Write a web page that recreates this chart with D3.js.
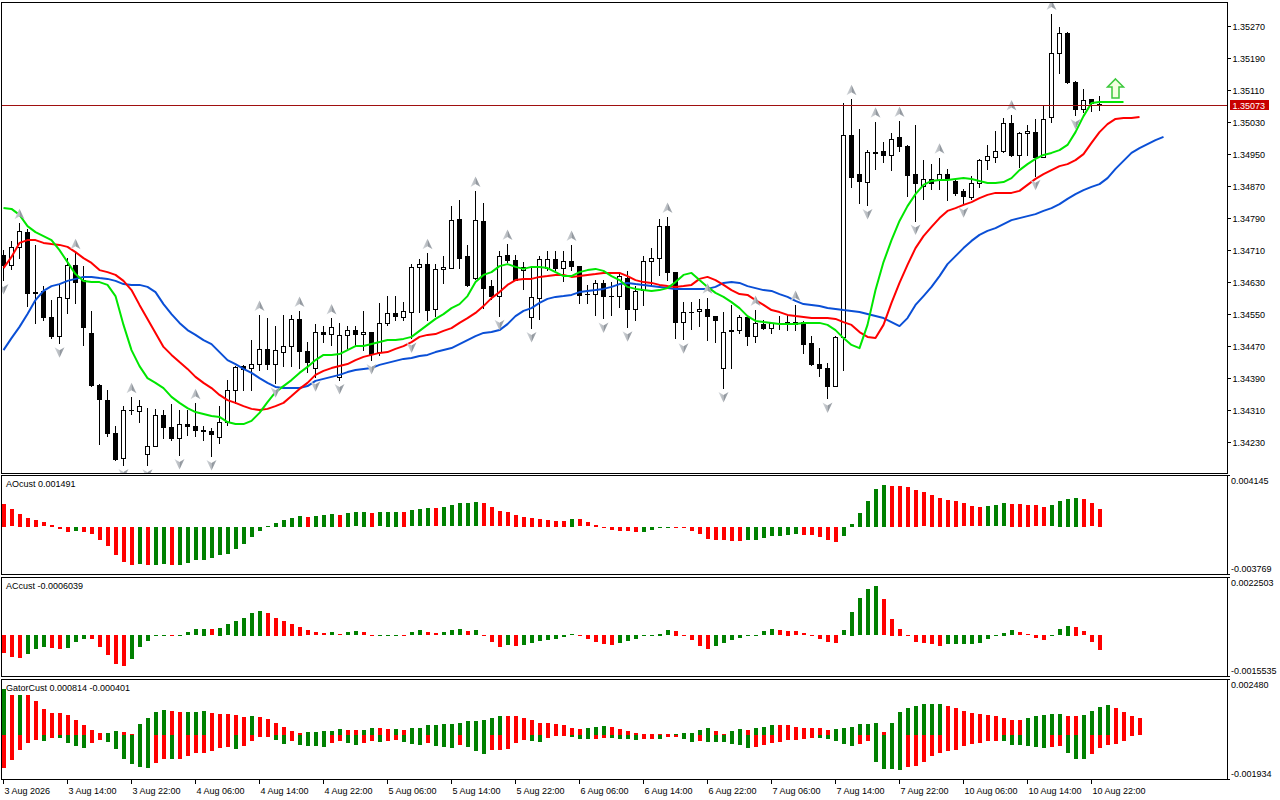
<!DOCTYPE html>
<html>
<head>
<meta charset="utf-8">
<script src="https://cdnjs.cloudflare.com/ajax/libs/d3/7.8.5/d3.min.js"></script>
<style>
  body { margin: 0; background: #fff; }
  svg { display: block; font-family: "Liberation Sans", Arial, sans-serif; font-size: 9px; }
</style>
</head>
<body>
<svg id="chart"></svg>
<script>
// ---- data (EURUSD-like H1, 3 Aug 06:00 .. 10 Aug 23:00) ----
// candles: [open, high, low, close]
const candles = [
  [1.34697,1.34709,1.34634,1.34672],[1.34672,1.34732,1.34661,1.34716],[1.34716,1.34776,1.34690,1.34757],[1.34754,1.34763,1.34570,1.34601],
  [1.34603,1.34722,1.34526,1.34601],[1.34607,1.34619,1.34533,1.34541],[1.34542,1.34584,1.34488,1.34493],[1.34494,1.34622,1.34476,1.34591],
  [1.34588,1.34688,1.34551,1.34672],[1.34672,1.34701,1.34576,1.34630],[1.34634,1.34668,1.34472,1.34516],[1.34501,1.34557,1.34368,1.34372],
  [1.34372,1.34373,1.34223,1.34336],[1.34334,1.34359,1.34244,1.34251],[1.34251,1.34269,1.34184,1.34186],[1.34188,1.34319,1.34172,1.34309],
  [1.34309,1.34341,1.34299,1.34310],[1.34306,1.34333,1.34280,1.34319],[1.34198,1.34313,1.34171,1.34219],[1.34219,1.34311,1.34218,1.34297],
  [1.34297,1.34309,1.34238,1.34266],[1.34266,1.34323,1.34234,1.34238],[1.34238,1.34309,1.34197,1.34273],[1.34274,1.34309,1.34247,1.34268],
  [1.34269,1.34326,1.34245,1.34258],[1.34258,1.34268,1.34233,1.34257],[1.34257,1.34265,1.34194,1.34248],[1.34241,1.34319,1.34226,1.34278],
  [1.34278,1.34384,1.34272,1.34359],[1.34359,1.34419,1.34326,1.34416],[1.34418,1.34422,1.34359,1.34412],[1.34413,1.34484,1.34359,1.34423],
  [1.34423,1.34547,1.34409,1.34461],[1.34461,1.34538,1.34412,1.34423],[1.34423,1.34518,1.34376,1.34458],[1.34453,1.34547,1.34418,1.34468],
  [1.34468,1.34547,1.34418,1.34536],[1.34536,1.34557,1.34414,1.34457],[1.34457,1.34480,1.34404,1.34428],[1.34414,1.34524,1.34391,1.34505],
  [1.34505,1.34519,1.34480,1.34498],[1.34498,1.34538,1.34472,1.34516],[1.34391,1.34526,1.34384,1.34497],[1.34497,1.34520,1.34463,1.34508],
  [1.34508,1.34520,1.34468,1.34498],[1.34498,1.34557,1.34459,1.34503],[1.34503,1.34505,1.34434,1.34449],[1.34453,1.34576,1.34447,1.34526],
  [1.34526,1.34593,1.34522,1.34551],[1.34551,1.34594,1.34533,1.34543],[1.34541,1.34578,1.34533,1.34557],[1.34555,1.34674,1.34488,1.34666],
  [1.34666,1.34686,1.34555,1.34673],[1.34673,1.34701,1.34533,1.34559],[1.34561,1.34673,1.34543,1.34662],[1.34661,1.34694,1.34626,1.34666],
  [1.34665,1.34819,1.34664,1.34784],[1.34788,1.34834,1.34664,1.34688],[1.34694,1.34722,1.34620,1.34622],[1.34640,1.34857,1.34636,1.34784],
  [1.34782,1.34828,1.34563,1.34615],[1.34618,1.34634,1.34586,1.34594],[1.34594,1.34707,1.34545,1.34693],[1.34697,1.34724,1.34678,1.34684],
  [1.34684,1.34697,1.34633,1.34634],[1.34659,1.34678,1.34612,1.34666],[1.34541,1.34665,1.34514,1.34591],[1.34590,1.34693,1.34536,1.34686],
  [1.34664,1.34707,1.34659,1.34686],[1.34686,1.34707,1.34659,1.34664],[1.34664,1.34707,1.34632,1.34682],[1.34682,1.34722,1.34659,1.34668],
  [1.34668,1.34670,1.34576,1.34597],[1.34598,1.34622,1.34576,1.34598],[1.34599,1.34634,1.34547,1.34626],[1.34626,1.34634,1.34538,1.34593],
  [1.34594,1.34630,1.34547,1.34594],[1.34593,1.34652,1.34566,1.34643],[1.34638,1.34657,1.34516,1.34561],[1.34561,1.34618,1.34534,1.34607],
  [1.34609,1.34693,1.34572,1.34682],[1.34682,1.34713,1.34618,1.34688],[1.34688,1.34788,1.34647,1.34769],[1.34769,1.34792,1.34633,1.34653],
  [1.34653,1.34655,1.34490,1.34530],[1.34530,1.34580,1.34486,1.34555],[1.34555,1.34580,1.34511,1.34554],[1.34557,1.34587,1.34518,1.34562],
  [1.34562,1.34590,1.34483,1.34543],[1.34543,1.34544,1.34480,1.34534],[1.34414,1.34555,1.34364,1.34505],[1.34507,1.34572,1.34414,1.34508],
  [1.34509,1.34547,1.34501,1.34541],[1.34541,1.34543,1.34472,1.34493],[1.34493,1.34559,1.34480,1.34526],[1.34523,1.34534,1.34511,1.34513],
  [1.34513,1.34530,1.34501,1.34526],[1.34527,1.34543,1.34511,1.34527],[1.34530,1.34547,1.34508,1.34523],[1.34523,1.34572,1.34509,1.34530],
  [1.34530,1.34532,1.34451,1.34473],[1.34476,1.34493,1.34421,1.34423],[1.34424,1.34463,1.34393,1.34413],[1.34413,1.34426,1.34338,1.34370],
  [1.34370,1.34493,1.34368,1.34491],[1.34492,1.35077,1.34409,1.34997],[1.34997,1.35086,1.34868,1.34893],[1.34899,1.35012,1.34827,1.34883],
  [1.34880,1.34959,1.34822,1.34955],[1.34955,1.35030,1.34913,1.34953],[1.34957,1.34980,1.34930,1.34948],[1.34948,1.35001,1.34909,1.34988],
  [1.34991,1.35032,1.34958,1.34970],[1.34970,1.34972,1.34845,1.34898],[1.34899,1.35023,1.34783,1.34878],[1.34869,1.34934,1.34838,1.34886],
  [1.34886,1.34924,1.34863,1.34878],[1.34884,1.34940,1.34862,1.34899],[1.34899,1.34913,1.34834,1.34888],[1.34882,1.34884,1.34847,1.34853],
  [1.34857,1.34863,1.34826,1.34844],[1.34843,1.34895,1.34837,1.34878],[1.34878,1.34938,1.34866,1.34934],[1.34934,1.34973,1.34912,1.34944],
  [1.34943,1.35007,1.34930,1.34957],[1.34957,1.35040,1.34955,1.35026],[1.35026,1.35048,1.34945,1.34947],[1.34948,1.35005,1.34918,1.35001],
  [1.35001,1.35022,1.34947,1.35006],[1.35005,1.35038,1.34895,1.34943],[1.34943,1.35072,1.34941,1.35038],[1.35041,1.35299,1.35030,1.35201],
  [1.35201,1.35266,1.35151,1.35251],[1.35253,1.35255,1.35128,1.35130],[1.35130,1.35131,1.35047,1.35061],[1.35061,1.35111,1.35055,1.35084],
  [1.35086,1.35088,1.35058,1.35076],[1.35074,1.35094,1.35060,1.35073]
];

// alligator lines, already shifted forward (lips +3, teeth +5, jaw +8 bars)
const lips = [
  1.34814,1.34812,1.34797,1.34769,1.34754,1.34744,1.34734,1.34709,1.34679,1.34649,
  1.34632,1.34629,1.34629,1.34622,1.34594,1.34522,1.34459,1.34419,1.34389,1.34377,
  1.34364,1.34342,1.34327,1.34314,1.34304,1.34299,1.34294,1.34292,1.34279,1.34274,
  1.34274,1.34282,1.34302,1.34329,1.34354,1.34369,1.34384,1.34402,1.34417,1.34434,
  1.34447,1.34447,1.34449,1.34459,1.34469,1.34469,1.34474,1.34479,1.34484,1.34484,
  1.34487,1.34492,1.34507,1.34522,1.34537,1.34549,1.34564,1.34574,1.34594,1.34629,
  1.34647,1.34654,1.34669,1.34674,1.34667,1.34662,1.34667,1.34667,1.34664,1.34654,
  1.34644,1.34644,1.34654,1.34659,1.34662,1.34657,1.34644,1.34634,1.34617,1.34612,
  1.34609,1.34607,1.34609,1.34614,1.34629,1.34647,1.34652,1.34634,1.34617,1.34602,
  1.34592,1.34579,1.34564,1.34544,1.34532,1.34529,1.34527,1.34524,1.34524,1.34524,
  1.34527,1.34527,1.34527,1.34522,1.34509,1.34489,1.34472,1.34464,1.34522,1.34609,
  1.34679,1.34734,1.34782,1.34819,1.34849,1.34872,1.34882,1.34884,1.34884,1.34887,
  1.34889,1.34887,1.34882,1.34877,1.34877,1.34879,1.34889,1.34909,1.34924,1.34937,
  1.34947,1.34952,1.34959,1.34972,1.35004,1.35044,1.35077,1.35079,1.35079,1.35079,
  1.35079
];
const teeth = [
  1.34664,1.34692,1.34727,1.34734,1.34734,1.34727,1.34724,1.34722,1.34717,1.34704,
  1.34689,1.34677,1.34659,1.34654,1.34647,1.34632,1.34609,1.34572,1.34537,1.34502,
  1.34467,1.34447,1.34429,1.34412,1.34392,1.34377,1.34364,1.34347,1.34334,1.34327,
  1.34319,1.34312,1.34309,1.34312,1.34319,1.34327,1.34344,1.34362,1.34377,1.34397,
  1.34407,1.34414,1.34419,1.34424,1.34434,1.34442,1.34447,1.34452,1.34454,1.34462,
  1.34469,1.34479,1.34492,1.34497,1.34499,1.34507,1.34514,1.34527,1.34539,1.34552,
  1.34569,1.34589,1.34604,1.34622,1.34634,1.34637,1.34637,1.34642,1.34644,1.34647,
  1.34647,1.34642,1.34644,1.34647,1.34649,1.34652,1.34652,1.34652,1.34644,1.34634,
  1.34629,1.34627,1.34622,1.34619,1.34617,1.34619,1.34622,1.34637,1.34642,1.34634,
  1.34622,1.34609,1.34599,1.34597,1.34584,1.34572,1.34559,1.34554,1.34547,1.34544,
  1.34542,1.34539,1.34539,1.34539,1.34537,1.34529,1.34522,1.34504,1.34492,1.34489,
  1.34522,1.34577,1.34627,1.34672,1.34714,1.34744,1.34767,1.34789,1.34807,1.34814,
  1.34822,1.34829,1.34839,1.34847,1.34852,1.34852,1.34852,1.34857,1.34872,1.34887,
  1.34899,1.34909,1.34919,1.34924,1.34934,1.34949,1.34977,1.35004,1.35024,1.35037,
  1.35039,1.35039,1.35042
];
const jaw = [
  1.34459,1.34489,1.34517,1.34549,1.34584,1.34607,1.34619,1.34624,1.34632,1.34637,
  1.34642,1.34642,1.34639,1.34637,1.34632,1.34624,1.34622,1.34622,1.34617,1.34604,
  1.34574,1.34549,1.34527,1.34509,1.34497,1.34484,1.34474,1.34454,1.34434,1.34424,
  1.34412,1.34402,1.34389,1.34377,1.34367,1.34364,1.34364,1.34364,1.34369,1.34382,
  1.34387,1.34392,1.34397,1.34404,1.34409,1.34412,1.34414,1.34422,1.34427,1.34432,
  1.34437,1.34439,1.34444,1.34447,1.34454,1.34459,1.34464,1.34474,1.34484,1.34494,
  1.34502,1.34504,1.34509,1.34524,1.34544,1.34557,1.34564,1.34577,1.34587,1.34592,
  1.34594,1.34597,1.34604,1.34607,1.34609,1.34612,1.34617,1.34624,1.34627,1.34624,
  1.34622,1.34619,1.34617,1.34614,1.34612,1.34612,1.34612,1.34612,1.34612,1.34617,
  1.34627,1.34629,1.34627,1.34619,1.34614,1.34609,1.34607,1.34599,1.34592,1.34582,
  1.34574,1.34572,1.34569,1.34564,1.34562,1.34559,1.34557,1.34554,1.34549,1.34544,
  1.34539,1.34529,1.34519,1.34539,1.34572,1.34594,1.34617,1.34644,1.34674,1.34694,
  1.34714,1.34732,1.34747,1.34757,1.34764,1.34774,1.34784,1.34789,1.34794,1.34799,
  1.34807,1.34814,1.34824,1.34837,1.34849,1.34859,1.34867,1.34874,1.34889,1.34912,
  1.34932,1.34952,1.34964,1.34974,1.34984,1.34992
];

// bar indexes carrying a fractal
const fractalUp = [2,9,16,24,32,37,41,53,59,63,71,83,88,94,99,106,109,112,117,126,131];
const fractalDown = [0,7,15,18,22,26,34,39,42,46,51,62,66,75,78,85,90,103,108,114,120,129,134];
// hollow green signal arrow
const signals = [{ bar: 139, price: 1.35112 }];

const bidPrice = 1.35073;

const ao = [
  0.001876,0.001423,0.001023,0.000757,0.000544,0.000357,0.000144,-0.000123,-0.000389,-0.000309,
  -0.000389,-0.000576,-0.001029,-0.001588,-0.002308,-0.002894,-0.003107,-0.003027,-0.003110,-0.003081,
  -0.003054,-0.003107,-0.003081,-0.002921,-0.002708,-0.002654,-0.002548,-0.002308,-0.002175,-0.001775,
  -0.001349,-0.000815,-0.000336,0.000064,0.000304,0.000544,0.000704,0.000863,0.000784,0.000866,
  0.000943,0.001023,0.000945,0.001103,0.001183,0.001190,0.001105,0.001183,0.001188,0.001195,
  0.001185,0.001343,0.001423,0.001503,0.001498,0.001583,0.001743,0.001903,0.001910,0.001983,
  0.001903,0.001583,0.001263,0.001183,0.000943,0.000784,0.000704,0.000624,0.000544,0.000464,
  0.000460,0.000630,0.000600,0.000357,0.000144,-0.000043,-0.000229,-0.000309,-0.000315,-0.000389,
  -0.000375,-0.000210,-0.000043,-0.000010,-0.000040,-0.000060,-0.000309,-0.000576,-0.000975,-0.001029,
  -0.001035,-0.001109,-0.001115,-0.001100,-0.001029,-0.000922,-0.000762,-0.000709,-0.000629,-0.000576,
  -0.000629,-0.000656,-0.000789,-0.001029,-0.001189,-0.000709,0.000224,0.001103,0.002143,0.003102,
  0.003422,0.003342,0.003335,0.003262,0.003022,0.002809,0.002622,0.002383,0.002223,0.002089,
  0.001903,0.001663,0.001583,0.001663,0.001743,0.001903,0.001895,0.001850,0.001796,0.001743,
  0.001583,0.001743,0.002089,0.002303,0.002383,0.002303,0.001903,0.001491
];
const ac = [
  -0.000692,-0.000845,-0.000884,-0.000730,-0.000564,-0.000461,-0.000500,-0.000564,-0.000500,-0.000256,
  -0.000154,-0.000160,-0.000461,-0.000794,-0.001140,-0.001230,-0.000948,-0.000461,-0.000218,-0.000026,
  0.000026,-0.000020,-0.000010,0.000115,0.000243,0.000269,0.000243,0.000300,0.000450,0.000580,
  0.000692,0.000884,0.000961,0.000884,0.000692,0.000576,0.000461,0.000346,0.000192,0.000115,
  0.000077,0.000115,0.000038,0.000115,0.000154,0.000115,-0.000026,-0.000013,-0.000010,0.000026,
  0.000020,0.000115,0.000192,0.000115,0.000077,0.000115,0.000192,0.000231,0.000154,0.000192,
  0.000013,-0.000256,-0.000461,-0.000384,-0.000423,-0.000384,-0.000307,-0.000231,-0.000179,-0.000154,
  -0.000077,0.000051,-0.000005,-0.000141,-0.000256,-0.000371,-0.000410,-0.000307,-0.000218,-0.000141,
  -0.000026,0.000005,0.000064,0.000192,0.000185,-0.000026,-0.000205,-0.000436,-0.000564,-0.000423,
  -0.000307,-0.000179,-0.000128,-0.000013,0.000013,0.000154,0.000231,0.000192,0.000185,0.000154,
  0.000077,-0.000026,-0.000141,-0.000256,-0.000307,0.000192,0.000922,0.001460,0.001806,0.001922,
  0.001422,0.000653,0.000269,-0.000026,-0.000256,-0.000333,-0.000371,-0.000423,-0.000371,-0.000365,
  -0.000346,-0.000340,-0.000307,-0.000141,0.000010,0.000102,0.000192,0.000115,0.000038,-0.000102,
  -0.000192,0.000010,0.000231,0.000384,0.000346,0.000154,-0.000256,-0.0006039
];
const gatorUp = [
  0.00206,0.00181,0.00182,0.00181,0.00154,0.00119,0.00101,0.00098,0.00090,0.00066,
  0.00044,0.00022,0.00010,0.00011,0.00018,0.00015,0.00004,0.00050,0.00075,0.00104,
  0.00115,0.00110,0.00102,0.00104,0.00106,0.00107,0.00101,0.00097,0.00093,0.00090,
  0.00082,0.00088,0.00082,0.00071,0.00056,0.00037,0.00018,0.00010,0.00012,0.00015,
  0.00018,0.00019,0.00026,0.00022,0.00021,0.00025,0.00031,0.00030,0.00026,0.00027,
  0.00022,0.00031,0.00034,0.00044,0.00046,0.00049,0.00052,0.00056,0.00063,0.00064,
  0.00066,0.00075,0.00088,0.00087,0.00086,0.00078,0.00069,0.00054,0.00053,0.00052,
  0.00046,0.00031,0.00027,0.00033,0.00036,0.00040,0.00037,0.00029,0.00018,0.00010,
  0.00007,0.00006,0.00005,0.00004,0.00005,0.00008,0.00011,0.00024,0.00030,0.00018,
  0.00006,0.00020,0.00027,0.00023,0.00030,0.00037,0.00047,0.00045,0.00044,0.00038,
  0.00033,0.00032,0.00030,0.00025,0.00026,0.00030,0.00035,0.00050,0.00052,0.00054,
  0.00012,0.00053,0.00106,0.00124,0.00130,0.00140,0.00141,0.00142,0.00133,0.00124,
  0.00110,0.00100,0.00093,0.00090,0.00087,0.00078,0.00070,0.00069,0.00076,0.00085,
  0.00090,0.00094,0.00095,0.00088,0.00085,0.00092,0.00110,0.00125,0.00135,0.00120,
  0.00103,0.00088,0.00078
];
const gatorDown = [
  -0.00147,-0.00113,-0.00066,-0.00034,-0.00022,-0.00025,-0.00013,-0.00014,-0.00034,-0.00049,
  -0.00057,-0.00037,-0.00022,-0.00031,-0.00062,-0.00109,-0.00132,-0.00146,-0.00150,-0.00124,
  -0.00106,-0.00109,-0.00106,-0.00096,-0.00081,-0.00079,-0.00072,-0.00057,-0.00056,-0.00062,
  -0.00051,-0.00029,-0.00010,-0.00007,-0.00022,-0.00040,-0.00029,-0.00044,-0.00050,-0.00051,
  -0.00054,-0.00037,-0.00029,-0.00037,-0.00047,-0.00037,-0.00029,-0.00032,-0.00025,-0.00021,
  -0.00032,-0.00040,-0.00043,-0.00037,-0.00049,-0.00054,-0.00057,-0.00047,-0.00054,-0.00072,
  -0.00087,-0.00069,-0.00068,-0.00063,-0.00037,-0.00022,-0.00029,-0.00030,-0.00015,-0.00006,
  -0.00005,-0.00009,-0.00019,-0.00019,-0.00018,-0.00012,-0.00013,-0.00018,-0.00019,-0.00021,
  -0.00019,-0.00018,-0.00020,-0.00010,-0.00008,-0.00020,-0.00030,-0.00026,-0.00030,-0.00031,
  -0.00033,-0.00040,-0.00047,-0.00057,-0.00055,-0.00043,-0.00035,-0.00030,-0.00024,-0.00021,
  -0.00016,-0.00013,-0.00014,-0.00019,-0.00028,-0.00040,-0.00051,-0.00041,-0.00025,-0.00122,
  -0.00154,-0.00155,-0.00156,-0.00146,-0.00141,-0.00122,-0.00096,-0.00081,-0.00074,-0.00066,
  -0.00051,-0.00042,-0.00036,-0.00027,-0.00026,-0.00029,-0.00044,-0.00047,-0.00049,-0.00052,
  -0.00057,-0.00052,-0.00051,-0.00079,-0.00109,-0.00110,-0.00084,-0.00057,-0.00047,-0.00040,
  -0.00029
];
// value of the bar just left of the window (sets the colour of the first bar)
const aoBefore = 0.0023, acBefore = -0.0006, gatorUpBefore = 0.0020, gatorDownBefore = -0.0016;

// scale limits shown on the right of each window
const priceRange = [1.341517, 1.353293];
const aoRange = [-0.003769, 0.004145];
const acRange = [-0.0015535, 0.0022503];
const gatorRange = [-0.001934, 0.002480];

const priceTicks = [1.34230,1.34310,1.34390,1.34470,1.34550,1.34630,1.34710,1.34790,1.34870,1.34950,1.35030,1.35110,1.35190,1.35270];
const timeTickBars = [0,8,16,24,32,40,48,56,64,72,80,88,96,104,112,120,128,136];
const timeTickLabels = ["3 Aug 2026","3 Aug 14:00","3 Aug 22:00","4 Aug 06:00","4 Aug 14:00","4 Aug 22:00",
  "5 Aug 06:00","5 Aug 14:00","5 Aug 22:00","6 Aug 06:00","6 Aug 14:00","6 Aug 22:00",
  "7 Aug 06:00","7 Aug 14:00","7 Aug 22:00","10 Aug 06:00","10 Aug 14:00","10 Aug 22:00"];

// ---- layout ----
const GREEN = "#008000", RED = "#ff0000";
const plotLeft = 1, plotRight = 1227;
const win = {
  main:  { top: 2,   bottom: 473 },
  ao:    { top: 475, bottom: 574 },
  ac:    { top: 577, bottom: 676 },
  gator: { top: 679, bottom: 779 }
};

const svg = d3.select("#chart").attr("width", 1280).attr("height", 800);
svg.append("rect").attr("width", 1280).attr("height", 800).attr("fill", "#fff");

const defs = svg.append("defs");
Object.entries(win).forEach(([k, w]) => {
  defs.append("clipPath").attr("id", "clip-" + k)
    .append("rect").attr("x", plotLeft + 1).attr("y", w.top + 1)
    .attr("width", plotRight - plotLeft - 1).attr("height", w.bottom - w.top - 1);
});
const grad = defs.append("linearGradient").attr("id", "fractalFill")
  .attr("x1", "0%").attr("x2", "100%").attr("y1", "0%").attr("y2", "0%");
grad.append("stop").attr("offset", "0%").attr("stop-color", "#d4d8dc");
grad.append("stop").attr("offset", "50%").attr("stop-color", "#b4b8bd");
grad.append("stop").attr("offset", "51%").attr("stop-color", "#8d939a");
grad.append("stop").attr("offset", "100%").attr("stop-color", "#a9aeb4");

// bar index -> x of the bar's pixel column
const x = d3.scaleLinear().domain([0, 1]).range([3, 11]);
const y = d3.scaleLinear().domain(priceRange).range([win.main.bottom, win.main.top]);
const yAO = d3.scaleLinear().domain(aoRange).range([win.ao.bottom - 1, win.ao.top + 1]);
const yAC = d3.scaleLinear().domain(acRange).range([win.ac.bottom - 1, win.ac.top + 1]);
const yGator = d3.scaleLinear().domain(gatorRange).range([win.gator.bottom - 1, win.gator.top + 1]);

// ---- main window: candles ----
const gMain = svg.append("g").attr("clip-path", "url(#clip-main)");

gMain.append("g").selectAll("line")
  .data(candles)
  .join("line")
  .attr("x1", (d, i) => x(i) + 0.5).attr("x2", (d, i) => x(i) + 0.5)
  .attr("y1", d => Math.round(y(d[1]))).attr("y2", d => Math.round(y(d[2])) + 1)
  .attr("stroke", "#000").attr("stroke-width", 1);

gMain.append("g").attr("shape-rendering", "crispEdges").selectAll("rect")
  .data(candles)
  .join("rect")
  .each(function(d, i) {
    const top = Math.round(y(Math.max(d[0], d[3])));
    const bot = Math.round(y(Math.min(d[0], d[3])));
    const r = d3.select(this);
    if (bot - top < 2 || d[3] < d[0]) {
      // bearish (or flat) candle: solid black body
      r.attr("x", x(i) - 2).attr("y", top).attr("width", 5).attr("height", Math.max(1, bot - top + 1))
        .attr("fill", "#000");
    } else {
      r.attr("x", x(i) - 1.5).attr("y", top + 0.5).attr("width", 4).attr("height", bot - top)
        .attr("fill", "#fff").attr("stroke", "#000").attr("stroke-width", 1);
    }
  });

// ---- alligator ----
const priceLine = d3.line().x((d, i) => x(i) + 0.5).y(d => y(d));
[[jaw, "#0a4fd6"], [teeth, "#ff0000"], [lips, "#00e600"]].forEach(([series, color]) => {
  gMain.append("path")
    .datum(series)
    .attr("d", priceLine)
    .attr("fill", "none")
    .attr("stroke", color)
    .attr("stroke-width", 2)
    .attr("stroke-linejoin", "round");
});

// ---- fractals ----
const arrowUp = "M0,-5.5L5,5L0,2L-5,5Z";
const arrowDown = "M0,5.5L5,-5L0,-2L-5,-5Z";
gMain.append("g").selectAll("path")
  .data(fractalUp)
  .join("path")
  .attr("d", arrowUp)
  .attr("transform", i => `translate(${x(i) + 0.5},${y(candles[i][1]) - 9})`)
  .attr("fill", "url(#fractalFill)");
gMain.append("g").selectAll("path")
  .data(fractalDown)
  .join("path")
  .attr("d", arrowDown)
  .attr("transform", i => `translate(${x(i) + 0.5},${y(candles[i][2]) + 9})`)
  .attr("fill", "url(#fractalFill)");

// signal arrow
gMain.append("g").selectAll("polygon")
  .data(signals)
  .join("polygon")
  .attr("points", "0,-10 8,-2 3.5,-2 3.5,9 -3.5,9 -3.5,-2 -8,-2")
  .attr("transform", d => `translate(${x(d.bar) + 0.5},${y(d.price)})`)
  .attr("fill", "#f4ffe0")
  .attr("stroke", "#3cc83c")
  .attr("stroke-width", 1.5);

// bid line
const yBid = Math.round(y(bidPrice)) + 0.5;
svg.append("line")
  .attr("x1", plotLeft).attr("x2", plotRight).attr("y1", yBid).attr("y2", yBid)
  .attr("stroke", "#a01010").attr("stroke-width", 1);

// ---- histograms ----
function trendColors(values, before, byAbs) {
  let prev = before, col = RED;
  return values.map(v => {
    const a = byAbs ? Math.abs(v) : v;
    const b = byAbs ? Math.abs(prev) : prev;
    if (a > b) col = GREEN; else if (a < b) col = RED;
    prev = v;
    return col;
  });
}

function histogram(key, values, scale, colors) {
  const zero = scale(0);
  svg.append("g").attr("clip-path", `url(#clip-${key})`).attr("shape-rendering", "crispEdges")
    .selectAll("rect")
    .data(values)
    .join("rect")
    .attr("x", (d, i) => x(i) - 1)
    .attr("width", 4)
    .attr("y", d => Math.round(Math.min(zero, scale(d))))
    .attr("height", d => Math.max(1, Math.round(Math.abs(scale(d) - zero))))
    .attr("fill", (d, i) => colors[i]);
}

histogram("ao", ao, yAO, trendColors(ao, aoBefore, false));
histogram("ac", ac, yAC, trendColors(ac, acBefore, false));
histogram("gator", gatorUp, yGator, trendColors(gatorUp, gatorUpBefore, false));
histogram("gator", gatorDown, yGator, trendColors(gatorDown, gatorDownBefore, true));

// ---- frames ----
Object.values(win).forEach(w => {
  svg.append("rect")
    .attr("x", plotLeft + 0.5).attr("y", w.top + 0.5)
    .attr("width", plotRight - plotLeft).attr("height", w.bottom - w.top)
    .attr("fill", "none").attr("stroke", "#000").attr("stroke-width", 1);
});

// ---- price scale ----
const gPrice = svg.append("g");
priceTicks.forEach(p => {
  const yy = Math.round(y(p)) + 0.5;
  gPrice.append("line").attr("x1", plotRight).attr("x2", plotRight + 4)
    .attr("y1", yy).attr("y2", yy).attr("stroke", "#000");
  gPrice.append("text").attr("x", plotRight + 5.5).attr("y", yy + 3.5)
    .text(p.toFixed(5));
});
gPrice.append("rect")
  .attr("x", plotRight + 3).attr("y", yBid - 5.5).attr("width", 39).attr("height", 10)
  .attr("fill", "#c80000");
gPrice.append("text").attr("x", plotRight + 5.5).attr("y", yBid + 3.5)
  .attr("fill", "#fff").text(bidPrice.toFixed(5));

// indicator scales
[["ao", aoRange, v => v.toFixed(6)], ["ac", acRange, v => v.toFixed(7)], ["gator", gatorRange, v => v.toFixed(6)]]
  .forEach(([k, range, fmt]) => {
    const w = win[k];
    svg.append("line").attr("x1", plotRight).attr("x2", plotRight + 3)
      .attr("y1", w.top + 0.5).attr("y2", w.top + 0.5).attr("stroke", "#000");
    svg.append("line").attr("x1", plotRight).attr("x2", plotRight + 3)
      .attr("y1", w.bottom + 0.5).attr("y2", w.bottom + 0.5).attr("stroke", "#000");
    svg.append("text").attr("x", plotRight + 4).attr("y", w.top + 9).text(fmt(range[1]));
    svg.append("text").attr("x", plotRight + 4).attr("y", w.bottom - 2).text(fmt(range[0]));
  });

// indicator titles
const aoLast = ao[ao.length - 1], acLast = ac[ac.length - 1];
svg.append("text").attr("x", 6).attr("y", win.ao.top + 12).text("AOcust " + aoLast.toFixed(6));
svg.append("text").attr("x", 6).attr("y", win.ac.top + 12).text("ACcust " + acLast.toFixed(7));
svg.append("text").attr("x", 6).attr("y", win.gator.top + 12).text("GatorCust 0.000814 -0.000401");

// ---- time scale ----
const gTime = svg.append("g");
timeTickBars.forEach((b, k) => {
  const xx = x(b) + 0.5;
  gTime.append("line").attr("x1", xx).attr("x2", xx)
    .attr("y1", win.gator.bottom).attr("y2", win.gator.bottom + 5).attr("stroke", "#000");
  gTime.append("text").attr("x", xx + 1).attr("y", win.gator.bottom + 15).text(timeTickLabels[k]);
});
</script>
</body>
</html>
